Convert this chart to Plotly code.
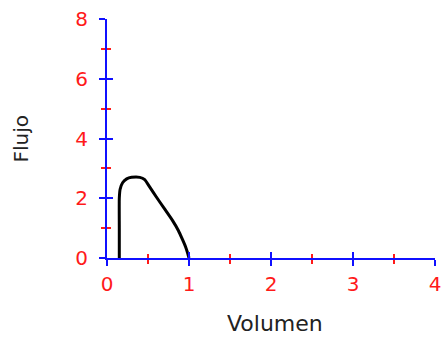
import plotly.graph_objects as go

# Flow-volume curve
volumen = [0.15, 0.15, 0.15, 0.16, 0.19, 0.24, 0.30, 0.40, 0.46, 0.52, 0.60, 0.70, 0.80, 0.87, 0.92, 0.96, 0.985, 1.0]
flujo   = [0.0, 1.0, 2.0, 2.30, 2.52, 2.65, 2.70, 2.70, 2.62, 2.38, 2.05, 1.65, 1.25, 0.92, 0.62, 0.36, 0.15, 0.0]

x_ticks = [0, 1, 2, 3, 4]
y_ticks = [0, 2, 4, 6, 8]

BLUE = "#1010ff"
RED = "#ff1a1a"
FONT = "DejaVu Sans"

fig = go.Figure()
fig.add_trace(go.Scatter(x=volumen, y=flujo, mode="lines",
                         line=dict(color="black", width=3, shape="spline", smoothing=0.5),
                         cliponaxis=False, showlegend=False, hoverinfo="skip"))
# invisible trace for overlay axes
fig.add_trace(go.Scatter(x=[0], y=[0], xaxis="x2", yaxis="y2", mode="markers",
                         marker=dict(opacity=0), showlegend=False, hoverinfo="skip"))

common_minor_x = dict(dtick=0.5, ticklen=4, tickwidth=2, tickcolor=RED)
common_minor_y = dict(dtick=1, ticklen=4, tickwidth=2, tickcolor=RED)

fig.update_layout(
    width=444, height=338,
    margin=dict(l=107, r=9, t=19, b=80, autoexpand=False),
    paper_bgcolor="white", plot_bgcolor="white",
    xaxis=dict(range=[0, 4], tickvals=x_ticks, showgrid=False, zeroline=False, automargin=False,
               showline=True, linecolor=BLUE, linewidth=2,
               ticks="outside", ticklen=6, tickwidth=2, tickcolor=BLUE,
               minor=dict(ticks="outside", showgrid=False, **common_minor_x),
               tickfont=dict(family=FONT, size=20, color=RED), ticklabelstandoff=1),
    yaxis=dict(range=[0, 8], tickvals=y_ticks, showgrid=False, zeroline=False, automargin=False,
               showline=True, linecolor=BLUE, linewidth=2,
               ticks="outside", ticklen=6, tickwidth=2, tickcolor=BLUE,
               minor=dict(ticks="outside", showgrid=False, **common_minor_y),
               tickfont=dict(family=FONT, size=20, color=RED), ticklabelstandoff=7),
    xaxis2=dict(range=[0, 4], tickvals=x_ticks, overlaying="x", anchor="y2", side="bottom",
                automargin=False,
                showgrid=False, zeroline=False, showline=False, showticklabels=False,
                ticks="inside", ticklen=6, tickwidth=2, tickcolor=BLUE,
                minor=dict(ticks="inside", showgrid=False, **common_minor_x)),
    yaxis2=dict(range=[0, 8], tickvals=y_ticks, overlaying="y", anchor="x2", side="left",
                automargin=False,
                showgrid=False, zeroline=False, showline=False, showticklabels=False,
                ticks="inside", ticklen=6, tickwidth=2, tickcolor=BLUE,
                minor=dict(ticks="inside", showgrid=False, **common_minor_y)),
    annotations=[
        dict(text="Volumen", xref="paper", yref="paper", x=0.512, y=-0.276,
             xanchor="center", yanchor="middle", showarrow=False,
             font=dict(family=FONT, size=22, color="#222222")),
        dict(text="Flujo", xref="paper", yref="paper", x=-0.265, y=0.5,
             xanchor="center", yanchor="middle", showarrow=False, textangle=-90,
             font=dict(family=FONT, size=20, color="#222222")),
    ],
)

fig.write_html("out.html", config={"displayModeBar": False},
               post_script="document.body.style.margin='0';document.body.style.overflow='hidden';")
